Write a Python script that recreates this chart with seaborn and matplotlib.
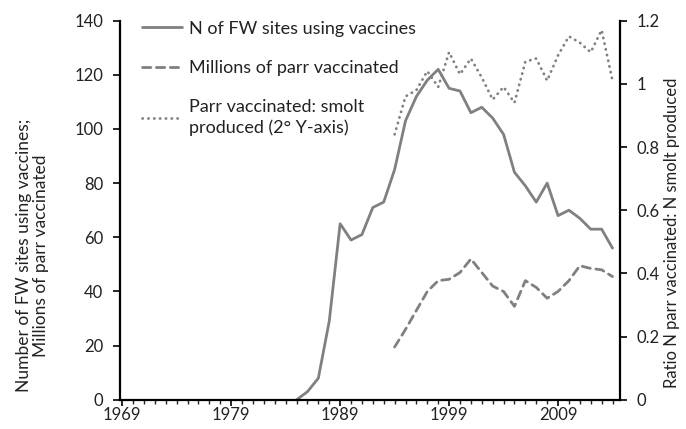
import numpy as np
import pandas as pd
import matplotlib
matplotlib.use("Agg")
import matplotlib.pyplot as plt
from matplotlib.ticker import MultipleLocator
import seaborn as sns

# ─────────────────────────────────────────────
#  DATA
# ─────────────────────────────────────────────
site_years = list(range(1985, 2015))
fw_sites = [0, 3, 8, 29, 65, 59, 61, 71, 73, 85,
            103, 112, 118, 122, 115, 114, 106, 108, 104, 98,
            84, 79, 73, 80, 68, 70, 67, 63, 63, 56]

parr_years = list(range(1994, 2015))
parr_millions = [19.5, 26, 33, 40, 44, 44.5, 47, 52, 47, 42,
                 40, 34.5, 44, 41.5, 37.5, 40, 44, 49.5, 48.5, 48, 45.5]

ratio_parr_smolt = [0.84, 0.96, 0.98, 1.04, 0.99, 1.10, 1.03, 1.08, 1.02, 0.95,
                    0.99, 0.94, 1.07, 1.08, 1.01, 1.09, 1.15, 1.13, 1.10, 1.17, 1.01]

x_ticks = [1969, 1979, 1989, 1999, 2009]
left_ticks = [0, 20, 40, 60, 80, 100, 120, 140]
right_ticks = [0, 0.2, 0.4, 0.6, 0.8, 1, 1.2]

sites_df = pd.DataFrame({"year": site_years, "value": fw_sites})
parr_df = pd.DataFrame({"year": parr_years, "value": parr_millions,
                        "ratio": ratio_parr_smolt})

# ─────────────────────────────────────────────
#  STYLE
# ─────────────────────────────────────────────
sns.set_style("ticks")
plt.rcParams["font.family"] = ["Lato", "DejaVu Sans"]
plt.rcParams["font.size"] = 12

grey = "#808080"
txt = "#222222"
lw = 2.0

fig = plt.figure(figsize=(6.86, 4.29), dpi=100)
ax = fig.add_axes([0.175, 0.068, 0.729, 0.884])
ax2 = ax.twinx()

# ─────────────────────────────────────────────
#  LINES
# ─────────────────────────────────────────────
sns.lineplot(data=sites_df, x="year", y="value", ax=ax, color=grey,
             linewidth=lw, label="N of FW sites using vaccines", legend=False)
sns.lineplot(data=parr_df, x="year", y="value", ax=ax, color=grey,
             linewidth=lw, label="Millions of parr vaccinated", legend=False)
ax.lines[1].set_linestyle((0, (3, 2)))
ax.lines[1].set_dash_capstyle("round")

sns.lineplot(data=parr_df, x="year", y="ratio", ax=ax2, color=grey,
             linewidth=lw, legend=False,
             label="Parr vaccinated: smolt\nproduced (2° Y-axis)")
ax2.lines[0].set_linestyle((0, (0.1, 2.0)))
ax2.lines[0].set_dash_capstyle("round")

# ─────────────────────────────────────────────
#  AXES
# ─────────────────────────────────────────────
ax.set_xlim(1968.8, 2014.7)
ax.set_ylim(0, 140)
ax2.set_ylim(0, 1.2)

ax.set_xticks(x_ticks)
ax.xaxis.set_minor_locator(MultipleLocator(1))
ax.set_yticks(left_ticks)
ax2.set_yticks(right_ticks)
ax2.set_yticklabels([f"{t:g}" for t in right_ticks])

for a in (ax, ax2):
    a.spines["top"].set_visible(False)
    for s in a.spines.values():
        s.set_linewidth(1.6)
        s.set_color("black")
ax.spines["right"].set_visible(False)
ax2.spines["left"].set_visible(False)
ax2.spines["bottom"].set_visible(False)

ax.tick_params(axis="x", which="major", length=4, width=1.4, direction="out",
               pad=1.5, labelsize=12, labelcolor=txt)
ax.tick_params(axis="x", which="minor", length=3, width=1.0, direction="out")
ax.tick_params(axis="y", length=5, width=1.4, direction="out", pad=7,
               labelsize=12, labelcolor=txt)
ax2.tick_params(axis="y", length=5, width=1.4, direction="out", pad=7,
                labelsize=12, labelcolor=txt)

ax.set_xlabel("")
ax.set_ylabel("Number of FW sites using vaccines;\nMillions of parr vaccinated",
              fontsize=12.5, color=txt, linespacing=1.1)
ax.yaxis.set_label_coords(-0.142, 0.38)
ax2.set_ylabel("Ratio N parr vaccinated: N smolt produced",
               fontsize=12, color=txt)
ax2.yaxis.set_label_coords(1.088, 0.44)

# ─────────────────────────────────────────────
#  LEGEND
# ─────────────────────────────────────────────
handles = ax.lines[:2] + ax2.lines[:1]
labels = [h.get_label() for h in handles]
leg = ax.legend(handles, labels, loc="upper left", bbox_to_anchor=(0.012, 1.043),
                frameon=False, handlelength=2.2, handletextpad=0.4,
                labelspacing=1.3, fontsize=13, labelcolor=txt)
for t in leg.get_texts():
    t.set_linespacing(1.3)

fig.savefig("out.png", dpi=100)
